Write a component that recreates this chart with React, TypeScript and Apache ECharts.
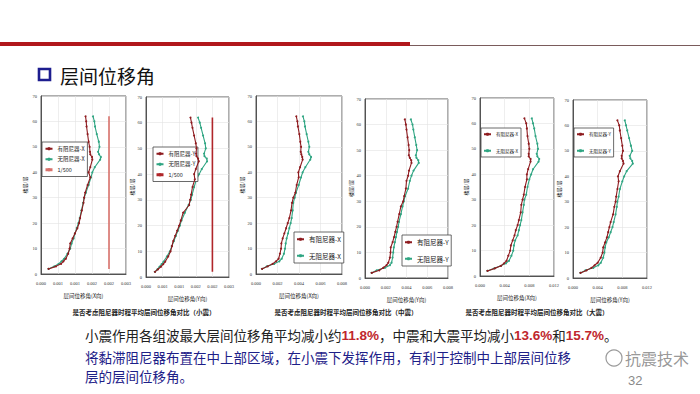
import React, { useEffect, useRef } from "react";
import * as echarts from "echarts";

// ---------- data ----------
const floors = [2, 3, 4, 5, 6, 8, 10, 12, 14, 16, 18, 20, 22, 25, 28, 30, 32, 35, 38, 40, 42, 45, 46, 47, 48, 50, 52, 55, 58, 60, 62];

// small earthquake, X / Y
const c1Damped = [0.00022, 0.00044, 0.00059, 0.00066, 0.00073, 0.0008, 0.00084, 0.00086, 0.00093, 0.001, 0.00107, 0.00112, 0.00115, 0.0012, 0.00125, 0.00127, 0.0013, 0.00137, 0.00145, 0.0014, 0.00145, 0.00151, 0.0015, 0.00145, 0.00144, 0.00143, 0.0014, 0.00137, 0.00134, 0.00133, 0.00131];
const c1Plain = [0.00022, 0.00039, 0.00052, 0.0006, 0.00068, 0.00078, 0.00086, 0.0009, 0.00096, 0.001, 0.00105, 0.0011, 0.00114, 0.00119, 0.00124, 0.00127, 0.00132, 0.0014, 0.00147, 0.00151, 0.00158, 0.00174, 0.00176, 0.00171, 0.00168, 0.00172, 0.0017, 0.00164, 0.00159, 0.00157, 0.00153];
const c2Damped = [0.00027, 0.00036, 0.00045, 0.00052, 0.00058, 0.00067, 0.00074, 0.00078, 0.00082, 0.00088, 0.00094, 0.001, 0.00105, 0.00112, 0.0013, 0.00133, 0.00136, 0.0014, 0.00147, 0.00145, 0.0015, 0.00159, 0.00157, 0.00152, 0.00151, 0.00152, 0.0015, 0.00145, 0.0014, 0.00137, 0.00134];
const c2Plain = [0.00027, 0.00034, 0.00041, 0.00047, 0.00053, 0.00063, 0.00072, 0.00078, 0.00084, 0.0009, 0.00096, 0.00102, 0.00107, 0.00117, 0.00128, 0.00135, 0.00139, 0.00145, 0.00152, 0.0016, 0.00168, 0.00184, 0.00183, 0.00176, 0.00175, 0.0018, 0.00178, 0.00172, 0.00166, 0.00162, 0.00157];
// moderate earthquake
const c3Damped = [0.00056, 0.00109, 0.00155, 0.00186, 0.0021, 0.00223, 0.00233, 0.00236, 0.00248, 0.00264, 0.0028, 0.00295, 0.0031, 0.00326, 0.00335, 0.00347, 0.00366, 0.00378, 0.00397, 0.00394, 0.0041, 0.00434, 0.0043, 0.00422, 0.00416, 0.00419, 0.00412, 0.00403, 0.0039, 0.00385, 0.00375];
const c3Plain = [0.00056, 0.001, 0.0017, 0.00217, 0.00239, 0.0026, 0.0027, 0.00276, 0.00285, 0.00298, 0.0031, 0.00322, 0.00332, 0.00341, 0.00347, 0.0036, 0.00372, 0.00397, 0.00419, 0.00434, 0.00459, 0.00505, 0.00512, 0.00496, 0.00487, 0.00496, 0.00487, 0.00471, 0.00456, 0.0045, 0.00437];
const c4Damped = [0.00064, 0.00138, 0.00176, 0.00208, 0.00225, 0.0024, 0.00246, 0.00248, 0.00266, 0.0028, 0.00292, 0.00304, 0.00314, 0.0033, 0.00346, 0.00368, 0.00378, 0.00394, 0.004, 0.00416, 0.00424, 0.00448, 0.00446, 0.00432, 0.00422, 0.00426, 0.0042, 0.0041, 0.004, 0.00394, 0.00384];
const c4Plain = [0.00064, 0.00112, 0.00192, 0.0024, 0.00256, 0.00266, 0.00272, 0.00278, 0.00288, 0.00298, 0.00308, 0.0032, 0.00328, 0.00346, 0.00362, 0.00374, 0.00386, 0.00416, 0.00432, 0.00448, 0.00468, 0.00518, 0.00514, 0.00496, 0.0049, 0.00502, 0.00494, 0.0048, 0.00466, 0.00458, 0.00442];
// large earthquake
const c5Damped = [0.0012, 0.0024, 0.0034, 0.0039, 0.0043, 0.0046, 0.0049, 0.005, 0.0053, 0.0056, 0.0058, 0.0061, 0.0063, 0.0066, 0.0067, 0.0069, 0.0071, 0.0073, 0.0076, 0.0076, 0.0078, 0.0082, 0.0082, 0.0079, 0.0079, 0.008, 0.0079, 0.0077, 0.0076, 0.0075, 0.0072];
const c5Plain = [0.0012, 0.0023, 0.0034, 0.0042, 0.0047, 0.0051, 0.0054, 0.0055, 0.0057, 0.0061, 0.0063, 0.0065, 0.0067, 0.0069, 0.0071, 0.0072, 0.0075, 0.0077, 0.008, 0.0083, 0.0086, 0.0095, 0.0096, 0.0093, 0.0092, 0.0094, 0.0093, 0.009, 0.0088, 0.0086, 0.0084];
const c6Damped = [0.0012, 0.0022, 0.003, 0.0035, 0.004, 0.0045, 0.0048, 0.0049, 0.0052, 0.0055, 0.0057, 0.0059, 0.0061, 0.0065, 0.0067, 0.0069, 0.007, 0.0072, 0.0074, 0.0073, 0.0076, 0.0082, 0.0081, 0.0079, 0.0079, 0.0081, 0.008, 0.0078, 0.0076, 0.0075, 0.0072];
const c6Plain = [0.0012, 0.002, 0.0033, 0.0041, 0.0045, 0.0049, 0.0051, 0.0052, 0.0054, 0.0058, 0.0061, 0.0064, 0.0066, 0.0069, 0.0071, 0.0072, 0.0074, 0.0076, 0.008, 0.0083, 0.0087, 0.0097, 0.0096, 0.0093, 0.0092, 0.0096, 0.0094, 0.0091, 0.0088, 0.0086, 0.0084];

const limitValue = 0.002; // 1/500
const limitFloors = [2, 62];
const limitName = "1/500";

const xMax = [0.0025, 0.0025, 0.008, 0.008, 0.012, 0.012];
const xInterval = [0.0005, 0.0005, 0.002, 0.002, 0.004, 0.004];
const dirs = ["X", "Y", "X", "Y", "X", "Y"];
const dampedSets = [c1Damped, c2Damped, c3Damped, c4Damped, c5Damped, c6Damped];
const plainSets = [c1Plain, c2Plain, c3Plain, c4Plain, c5Plain, c6Plain];
const captions = [
  "是否考虑阻尼器时程平均层间位移角对比（小震）",
  "是否考虑阻尼器时程平均层间位移角对比（中震）",
  "是否考虑阻尼器时程平均层间位移角对比（大震）",
];

// ---------- layout ----------
const GRIDS = [
  [41, 96, 85, 178],
  [146, 97, 83, 180],
  [256, 96, 86, 178],
  [365, 99, 83, 179],
  [480, 98, 74, 178],
  [573, 100, 74, 178],
];
const Y_NAME_GAP = [14, 12, 10, 8, 8, 10];
const LEGENDS = [
  { left: 42, top: 142, font: 5.5, gap: 5 },
  { left: 153, top: 147, font: 5.5, gap: 5 },
  { left: 294, top: 232, font: 6.5, gap: 10 },
  { left: 402, top: 235, font: 6.5, gap: 10 },
  { left: 481, top: 128, font: 4.5, gap: 12 },
  { left: 574, top: 128, font: 4.5, gap: 12 },
];
const CAPTION_X = [144, 346, 537];

const RED = "#8e1b1f";
const GREEN = "#2fa582";
const LIMIT_COLORS = ["#d8716b", "#b0262a"];
const FONT = "'Liberation Serif', 'Noto Sans CJK SC', serif";
const CJK = "'Noto Sans CJK SC', sans-serif";

export default function App() {
  const ref = useRef<HTMLDivElement>(null);

  useEffect(() => {
    if (!ref.current) return;
    const chart = echarts.init(ref.current, undefined, { renderer: "svg" });

    const grid = GRIDS.map((g) => ({
      left: g[0], top: g[1], width: g[2], height: g[3],
      show: true, borderColor: "#333", borderWidth: 0.8, backgroundColor: "#fff",
    }));

    const xAxis = GRIDS.map((_, i) => ({
      gridIndex: i,
      type: "value",
      min: 0,
      max: xMax[i],
      interval: xInterval[i],
      name: `层间位移角(${dirs[i]}向)`,
      nameLocation: "middle",
      nameGap: 19,
      nameTextStyle: { fontSize: 5.5, color: "#222", fontFamily: CJK },
      axisLine: { show: true, lineStyle: { color: "#333", width: 0.8 } },
      axisTick: { show: false },
      axisLabel: { fontSize: 4.5, color: "#333", margin: 7, fontFamily: FONT, formatter: (v: number) => v.toFixed(3) },
      splitLine: { show: true, lineStyle: { color: "#e2e2e2", width: 0.6 } },
    }));

    const yAxis = GRIDS.map((_, i) => ({
      gridIndex: i,
      type: "value",
      min: 0,
      max: 70,
      interval: 10,
      name: "楼层/层",
      nameLocation: "middle",
      nameRotate: 90,
      nameGap: Y_NAME_GAP[i],
      nameTextStyle: { fontSize: 5, color: "#222", fontFamily: CJK },
      axisLine: { show: true, lineStyle: { color: "#333", width: 0.8 } },
      axisTick: { show: false },
      axisLabel: { fontSize: 4.5, color: "#333", margin: 4, fontFamily: FONT },
      splitLine: { show: true, lineStyle: { color: "#e2e2e2", width: 0.6 } },
    }));

    const series: any[] = [];
    const legend: any[] = [];
    GRIDS.forEach((_, i) => {
      const dName = `有阻尼器-${dirs[i]}`;
      const pName = `无阻尼器-${dirs[i]}`;
      series.push({
        type: "line", name: dName, xAxisIndex: i, yAxisIndex: i,
        data: floors.map((f, k) => [dampedSets[i][k], f]),
        symbol: "circle", symbolSize: 2, z: 4,
        lineStyle: { color: RED, width: 1.1 }, itemStyle: { color: RED },
      });
      series.push({
        type: "line", name: pName, xAxisIndex: i, yAxisIndex: i,
        data: floors.map((f, k) => [plainSets[i][k], f]),
        symbol: "circle", symbolSize: 2, z: 3,
        lineStyle: { color: GREEN, width: 1.1 }, itemStyle: { color: GREEN },
      });
      const names: any[] = [
        { name: dName, itemStyle: { color: RED }, lineStyle: { color: RED } },
        { name: pName, itemStyle: { color: GREEN }, lineStyle: { color: GREEN } },
      ];
      if (i < 2) {
        series.push({
          type: "line", name: limitName, xAxisIndex: i, yAxisIndex: i,
          data: limitFloors.map((f) => [limitValue, f]),
          symbol: "none", z: 2,
          lineStyle: { color: LIMIT_COLORS[i], width: 1.6 }, itemStyle: { color: LIMIT_COLORS[i] },
        });
        names.push({ name: limitName, itemStyle: { color: LIMIT_COLORS[i] }, lineStyle: { color: LIMIT_COLORS[i], width: 3 } });
      }
      const L = LEGENDS[i];
      legend.push({
        data: names,
        left: L.left, top: L.top,
        orient: "vertical",
        itemWidth: 7, itemHeight: 4, itemGap: L.gap,
        padding: [4, 3, 4, 2],
        borderColor: "#444", borderWidth: 0.8, backgroundColor: "#fff",
        selectedMode: false,
        textStyle: { fontSize: L.font, color: "#222", fontFamily: CJK },
      });
    });

    const captionsG = captions.map((t, i) => ({
      type: "text", x: CAPTION_X[i], y: 312,
      style: { text: t, fontSize: 6.5, fontWeight: "bold", fill: "#222", align: "center", verticalAlign: "middle", fontFamily: CJK },
    }));

    const graphic: any[] = [
      { type: "rect", shape: { x: 0, y: 42, width: 410, height: 4 }, style: { fill: "#b1181c" } },
      { type: "line", shape: { x1: 410, y1: 45.5, x2: 700, y2: 45.5 }, style: { stroke: "#7a5b5b", lineWidth: 1 } },
      { type: "rect", shape: { x: 39, y: 69, width: 11, height: 11 }, style: { fill: "#fff", stroke: "#1d1d8f", lineWidth: 2.6 } },
      { type: "text", x: 60, y: 75, style: { text: "层间位移角", fontSize: 19, fill: "#111", verticalAlign: "middle", fontFamily: CJK } },
      ...captionsG,
      {
        type: "text", x: 85, y: 335,
        style: {
          text: "{a|小震作用各组波最大层间位移角平均减小约}{r|11.8%}{a|，中震和大震平均减小}{r|13.6%}{a|和}{r|15.7%}{a|。}",
          verticalAlign: "middle",
          rich: {
            a: { fontSize: 13.5, fill: "#222", fontFamily: CJK },
            r: { fontSize: 13.5, fill: "#c0272d", fontWeight: "bold", fontFamily: "'Liberation Sans', Arial, sans-serif" },
          },
        },
      },
      { type: "text", x: 85, y: 357, style: { text: "将黏滞阻尼器布置在中上部区域，在小震下发挥作用，有利于控制中上部层间位移", fontSize: 13.5, fill: "#1d2088", verticalAlign: "middle", fontFamily: CJK } },
      { type: "text", x: 85, y: 376, style: { text: "层的层间位移角。", fontSize: 13.5, fill: "#1d2088", verticalAlign: "middle", fontFamily: CJK } },
      { type: "circle", shape: { cx: 614, cy: 358, r: 8 }, style: { fill: "rgba(255,255,255,0.55)", stroke: "#9a9a9a", lineWidth: 1.2 } },
      { type: "text", x: 625, y: 358, style: { text: "抗震技术", fontSize: 16, fill: "rgba(140,140,140,0.9)", verticalAlign: "middle", fontFamily: CJK } },
      { type: "text", x: 628, y: 380, style: { text: "32", fontSize: 13, fill: "#8a8a8a", verticalAlign: "middle", fontFamily: "'Liberation Sans', sans-serif" } },
    ];

    chart.setOption({
      animation: false,
      backgroundColor: "#fff",
      textStyle: { fontFamily: FONT },
      grid, xAxis, yAxis, series, legend, graphic,
    });

    return () => chart.dispose();
  }, []);

  return <div ref={ref} style={{ position: "absolute", left: 0, top: 0, width: 700, height: 394 }} />;
}
